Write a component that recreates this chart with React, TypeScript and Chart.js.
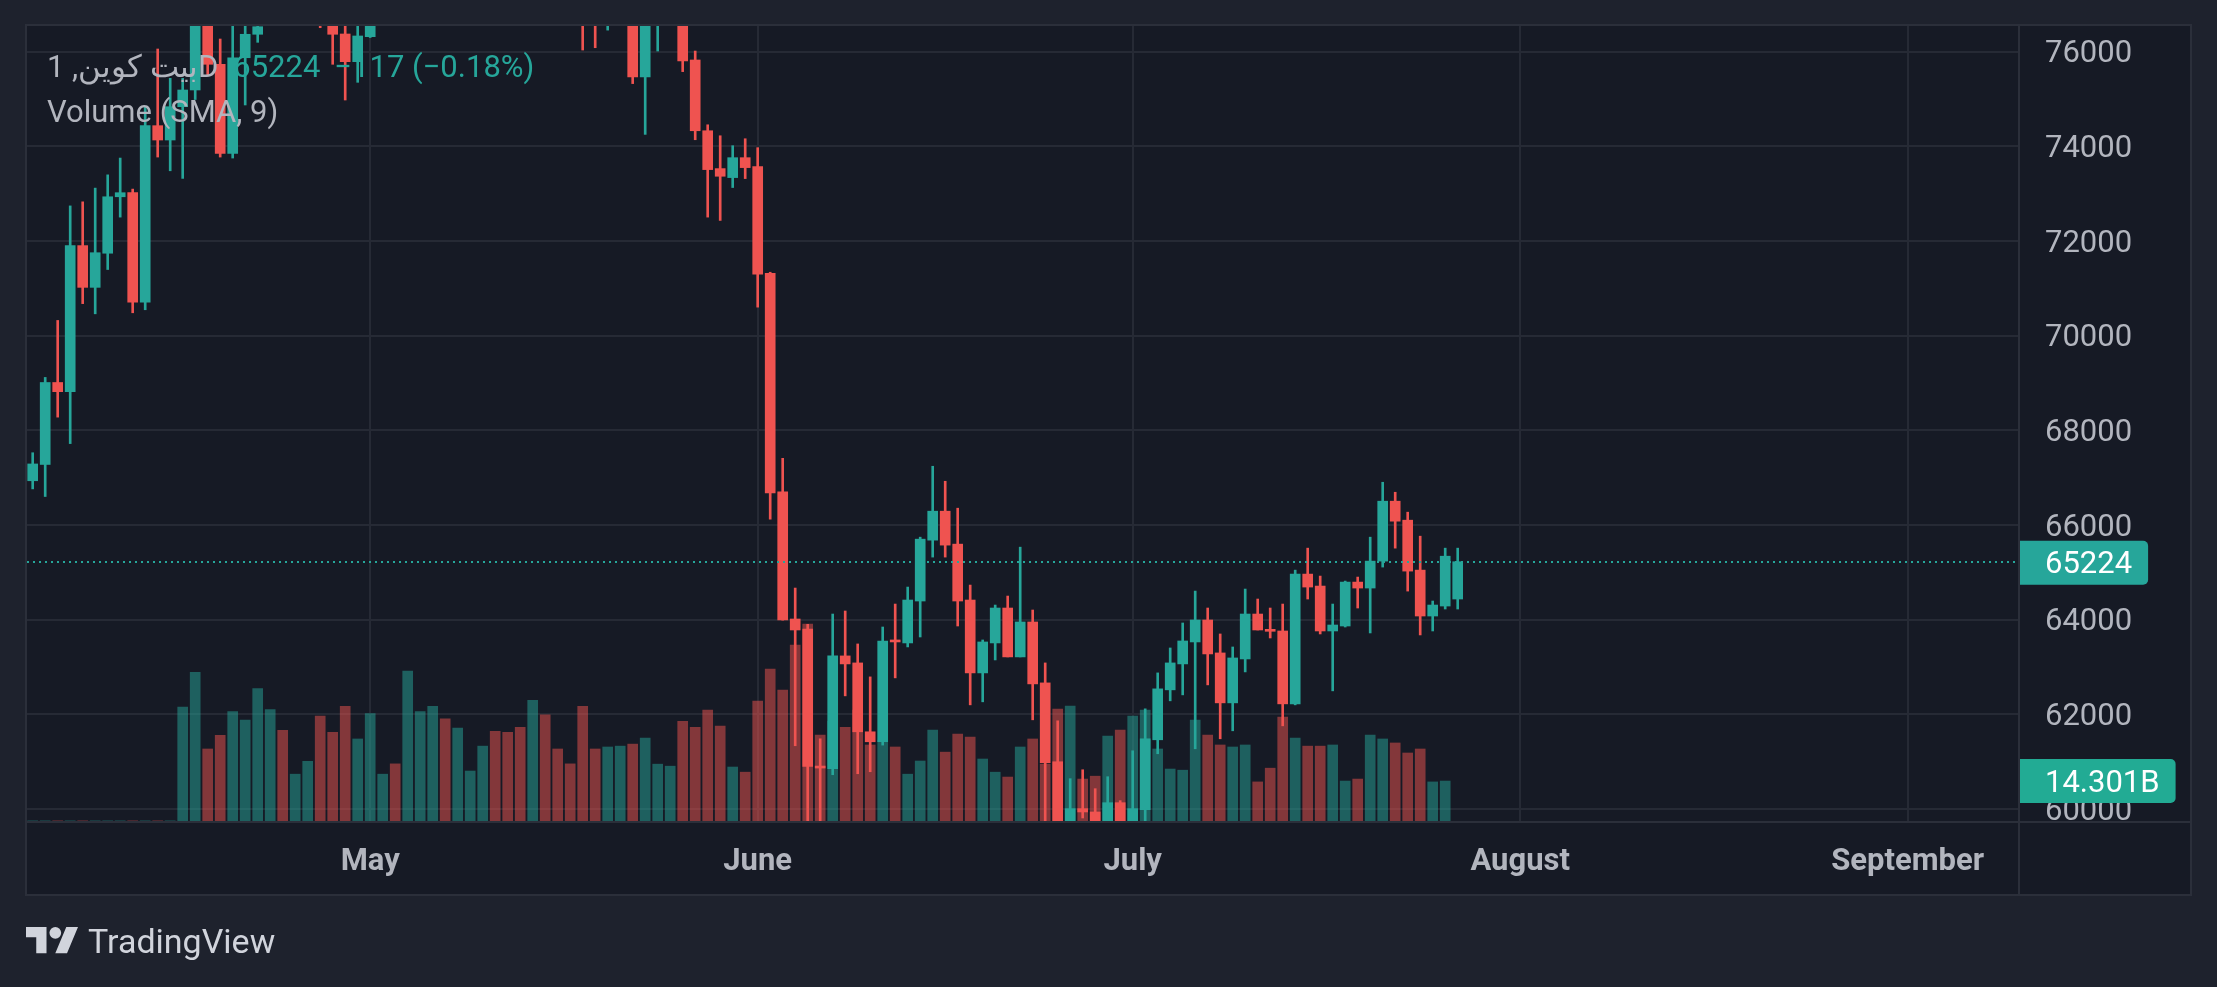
import React, { useEffect, useRef } from "react";
import { Chart, registerables } from "chart.js";

Chart.register(...registerables);

// Daily candles, index 0 = 4 April
const opens = [
  66935, 67279, 69011, 68817, 71903, 71021, 71742, 72935, 73021, 70710,
  74437, 74134, 74838, 75191, 77000, 75734, 73853, 75873, 76368, 77000,
  77600, 77100, 77500, 78000, 76900, 76374, 75789, 76317, 76700, 77300,
  76900, 78200, 78800, 79600, 78900, 79400, 79700, 80300, 79800, 79100,
  78300, 79000, 78200, 77600, 77100, 77000, 76650, 77100, 77400, 75467,
  77000, 77500, 77700, 75825, 74330, 73530, 73340, 73761, 73572, 71319,
  66700, 64014, 63803, 60907, 60851, 63234, 63086, 61631, 61420, 63564,
  63508, 64394, 65680, 66292, 65596, 64415, 62875, 63508, 64246, 63213,
  63951, 62664, 60998, 59650, 60007, 59937, 59650, 60133, 59650, 59986,
  61462, 62517, 63065, 63529, 63993, 63297, 62242, 63170, 64119, 63782,
  63761, 62221, 64963, 64710, 63761, 63866, 64794, 64668, 65237, 66503,
  66102, 65047, 64077, 64288, 64436,
];
const highs = [
  67527, 69118, 70322, 72742, 72828, 73118, 73398, 73753, 73097, 74849,
  76057, 75438, 75438, 77200, 77400, 76268, 76800, 76900, 77000, 78000,
  78100, 77900, 78400, 78300, 77100, 76800, 76700, 77000, 77600, 77700,
  78500, 79200, 80000, 79900, 79800, 80000, 80600, 80500, 80000, 79300,
  79400, 79200, 78400, 77800, 77300, 77200, 77300, 77900, 77700, 77300,
  77800, 78200, 78000, 76014, 74456, 74224, 74014, 74161, 73972, 71340,
  67409, 64668, 63901, 61483, 64119, 64183, 63487, 62791, 63845, 64330,
  64689, 65743, 67241, 66924, 66355, 64731, 63571, 64309, 64499, 65532,
  64204, 63086, 61863, 60640, 60829, 60429, 60682, 60176, 61230, 62116,
  62875, 63402, 63930, 64604, 64246, 63698, 63423, 64647, 64436, 64246,
  64330, 65047, 65511, 64921, 64330, 64815, 64900, 65743, 66903, 66692,
  66271, 65764, 64394, 65511, 65511,
];
const lows = [
  66763, 66602, 68279, 67720, 70677, 70462, 71398, 72505, 70484, 70548,
  73774, 73484, 73323, 74990, 75500, 73774, 73753, 74874, 76198, 76700,
  76800, 76900, 77200, 76507, 75734, 74979, 75353, 76300, 76650, 76700,
  76800, 77900, 78500, 78600, 78700, 79200, 79500, 79500, 78800, 78000,
  78100, 77900, 77300, 76800, 76035, 76084, 76456, 76900, 75326, 74253,
  76014, 77200, 75579, 74140, 72505, 72435, 73130, 73319, 70603, 66123,
  63990, 61336, 59600, 59600, 60724, 62390, 60745, 60787, 61350, 62770,
  63424, 63634, 65322, 65322, 63866, 62200, 62264, 63149, 63213, 63213,
  61884, 59600, 59500, 59500, 59810, 59500, 59500, 59500, 59500, 59600,
  61167, 62285, 62411, 61272, 62622, 61483, 61652, 62896, 63782, 63613,
  61757, 62200, 64436, 63698, 62496, 63845, 64246, 63719, 65111, 65511,
  64604, 63677, 63761, 64225, 64225,
];
const closes = [
  67290, 69011, 68817, 71903, 71021, 71753, 72935, 73021, 70710, 74437,
  74134, 74838, 75191, 76900, 75734, 73853, 75873, 76368, 76528, 77600,
  77100, 77500, 78000, 77000, 76368, 75789, 76332, 76700, 77300, 76900,
  78200, 78800, 79600, 78900, 79400, 79700, 80300, 79800, 79100, 78300,
  79000, 78200, 77600, 77100, 76700, 76650, 77100, 77600, 75467, 77000,
  77500, 77900, 75804, 74330, 73509, 73368, 73761, 73551, 71298, 66680,
  63993, 63782, 60900, 60865, 63234, 63065, 61631, 61420, 63550, 63529,
  64415, 65701, 66292, 65575, 64394, 62875, 63529, 64246, 63213, 63951,
  62643, 60977, 59650, 60007, 59937, 59650, 60133, 59650, 60007, 61483,
  62538, 63086, 63550, 63993, 63276, 62242, 63191, 64119, 63782, 63754,
  62221, 64963, 64689, 63761, 63887, 64794, 64668, 65237, 66503, 66081,
  65026, 64077, 64309, 65341, 65224,
];
// Volume in billions
const volumesB: (number | null)[] = [
  0.4, 0.4, 0.4, 0.4, 0.4, 0.4, 0.4, 0.4, 0.4, 0.4,
  0.4, 0.4, 40.1, 52.3, 25.5, 30.3, 38.6, 35.6, 46.6, 39.3,
  32.0, 16.7, 21.2, 37.0, 31.3, 40.4, 29.0, 37.9, 16.7, 20.3,
  52.7, 38.6, 40.4, 36.0, 32.8, 17.8, 26.5, 31.7, 31.3, 33.1,
  42.5, 37.4, 25.5, 20.3, 40.4, 25.5, 26.2, 26.5, 27.2, 29.3,
  20.2, 19.5, 35.2, 33.1, 39.1, 33.5, 19.2, 17.4, 42.2, 53.4,
  46.1, 61.8, 69.1, 30.4, 35.2, 33.1, 39.1, 26.9, 28.6, 26.2,
  16.7, 21.3, 32.1, 24.4, 30.7, 29.7, 22.0, 17.4, 15.7, 26.2,
  29.0, 20.2, 39.4, 40.5, 15.0, 16.0, 30.0, 32.1, 37.0, 39.1,
  25.5, 18.5, 18.1, 35.6, 30.4, 26.9, 26.2, 26.9, 14.0, 18.8,
  36.6, 29.3, 26.5, 26.5, 26.9, 14.3, 15.0, 30.4, 29.0, 27.6,
  24.1, 25.5, 14.0, 14.301, null,
];

const priceTicks = [60000, 62000, 64000, 66000, 68000, 70000, 72000, 74000, 76000];
const monthTickIndex = [27, 58, 88, 119, 150];
const monthLabels = ["May", "June", "July", "August", "September"];

const symbolTitle = "بيت كوين, 1D";
const lastPriceText = "65224";
const changeText = "−117 (−0.18%)";
const volumeTitle = "Volume (SMA, 9)";
const lastVolumeText = "14.301B";

const UP = "#26a69a";
const DOWN = "#ef5350";
const UP_VOL = "rgba(38,166,154,0.5)";
const DOWN_VOL = "rgba(239,83,80,0.5)";
const PAGE_BG = "#1e222d";
const PANE_BG = "#161a25";
const GRID = "#262a35";
const BORDER = "#2b2f3a";
const TEXT = "#b2b5be";
const FONT = "Roboto";

const TV_PATH = "M14 22H7V11H0V4h14v18zM28 22h-8l7.5-18h8L28 22z";

export default function App() {
  const canvasRef = useRef<HTMLCanvasElement | null>(null);

  useEffect(() => {
    document.body.style.margin = "0";
    document.body.style.background = PAGE_BG;
    const canvas = canvasRef.current;
    if (!canvas) return;

    const idx = closes.map((_, i) => i);
    const isUp = idx.map((i) => closes[i] >= opens[i]);
    const candleColors = isUp.map((u) => (u ? UP : DOWN));
    const volColors = isUp.map((u) => (u ? UP_VOL : DOWN_VOL));
    const wickData = idx.map((i) => ({ x: i, y: [lows[i], highs[i]] }));
    const bodyData = idx.map((i) => ({ x: i, y: [opens[i], closes[i]] }));
    const volData = idx.map((i) => ({ x: i, y: volumesB[i] }));
    const last = closes.length - 1;
    const lastUp = isUp[last];
    let lastVolIdx = volumesB.length - 1;
    while (lastVolIdx > 0 && volumesB[lastVolIdx] == null) lastVolIdx--;

    const decor = {
      id: "tvDecor",
      beforeDraw(chart: any) {
        const { ctx, chartArea } = chart;
        const ys = chart.scales.y;
        const xs = chart.scales.x;
        ctx.save();
        ctx.fillStyle = PAGE_BG;
        ctx.fillRect(0, 0, chart.width, chart.height);
        ctx.fillStyle = PANE_BG;
        ctx.fillRect(chartArea.left - 1, chartArea.top - 1, ys.right - chartArea.left + 1, xs.bottom - chartArea.top + 1);
        ctx.restore();
      },
      afterDatasetsDraw(chart: any) {
        const { ctx, chartArea } = chart;
        const ys = chart.scales.y;
        // last price dotted line
        const py = Math.round(ys.getPixelForValue(closes[last]));
        ctx.save();
        ctx.beginPath();
        ctx.rect(chartArea.left, chartArea.top, chartArea.right - chartArea.left, chartArea.bottom - chartArea.top);
        ctx.clip();
        ctx.strokeStyle = lastUp ? UP : DOWN;
        ctx.lineWidth = 2;
        ctx.setLineDash([2, 4]);
        ctx.beginPath();
        ctx.moveTo(chartArea.left, py);
        ctx.lineTo(chartArea.right, py);
        ctx.stroke();
        ctx.setLineDash([]);
        // legend
        ctx.textBaseline = "alphabetic";
        ctx.textAlign = "left";
        ctx.font = `31px ${FONT}`;
        const lx = chartArea.left + 20;
        ctx.fillStyle = TEXT;
        ctx.fillText(symbolTitle, lx, 77);
        let x = lx + ctx.measureText(symbolTitle).width + 15;
        ctx.fillStyle = lastUp ? UP : DOWN;
        ctx.fillText(lastPriceText, x, 77);
        x += ctx.measureText(lastPriceText).width + 14;
        ctx.fillText(changeText, x, 77);
        ctx.fillStyle = TEXT;
        ctx.fillText(volumeTitle, lx, 122);
        ctx.restore();
      },
      afterDraw(chart: any) {
        const { ctx, chartArea } = chart;
        const ys = chart.scales.y;
        const xs = chart.scales.x;
        const yv = chart.scales.yv;
        ctx.save();
        ctx.font = `31px ${FONT}`;
        ctx.textBaseline = "middle";
        ctx.textAlign = "left";
        const boxLeft = chartArea.right - 1;
        const drawBox = (text: string, yc: number, color: string) => {
          const tw = ctx.measureText(text).width;
          const w = tw + 27 + 16;
          ctx.fillStyle = color;
          ctx.beginPath();
          (ctx as any).roundRect(boxLeft, yc - 22, w, 44, [0, 5, 5, 0]);
          ctx.fill();
          ctx.fillStyle = "#ffffff";
          ctx.fillText(text, boxLeft + 27, yc + 3);
        };
        drawBox(lastPriceText, ys.getPixelForValue(closes[last]) + 1, lastUp ? UP : DOWN);
        const vUp = isUp[lastVolIdx];
        drawBox(lastVolumeText, yv.getPixelForValue(volumesB[lastVolIdx] as number), vUp ? "#22ab94" : "#f7525f");

        // frame and separators
        ctx.strokeStyle = BORDER;
        ctx.lineWidth = 2;
        const L = chartArea.left - 1;
        const T = chartArea.top - 1;
        const R = ys.right;
        const B = xs.bottom;
        ctx.strokeRect(L, T, R - L, B - T);
        ctx.beginPath();
        ctx.moveTo(chartArea.right, T);
        ctx.lineTo(chartArea.right, B);
        ctx.moveTo(L, chartArea.bottom);
        ctx.lineTo(R, chartArea.bottom);
        ctx.stroke();

        // TradingView logo
        ctx.fillStyle = "#d1d4dc";
        ctx.save();
        const s = 1.465;
        ctx.translate(L, 927 - 4 * s);
        ctx.scale(s, s);
        ctx.fill(new Path2D(TV_PATH));
        ctx.beginPath();
        ctx.arc(20, 8, 4, 0, Math.PI * 2);
        ctx.fill();
        ctx.restore();
        ctx.font = `34px ${FONT}`;
        ctx.textBaseline = "alphabetic";
        ctx.fillText("TradingView", 88, 953);
        ctx.restore();
      },
    };

    const chart = new Chart(canvas, {
      type: "bar",
      data: {
        datasets: [
          {
            label: "Volume",
            data: volData as any,
            xAxisID: "x",
            yAxisID: "yv",
            backgroundColor: volColors,
            barThickness: 10,
            grouped: false,
            order: 3,
            clip: 0 as any,
          },
          {
            label: "Wick",
            data: wickData as any,
            xAxisID: "x",
            yAxisID: "y",
            backgroundColor: candleColors,
            barThickness: 2,
            grouped: false,
            order: 2,
            clip: 0 as any,
          },
          {
            label: "Body",
            data: bodyData as any,
            xAxisID: "x",
            yAxisID: "y",
            backgroundColor: candleColors,
            barThickness: 10,
            minBarLength: 2,
            grouped: false,
            order: 1,
            clip: 0 as any,
          },
        ],
      },
      options: {
        responsive: false,
        maintainAspectRatio: false,
        animation: false,
        events: [],
        layout: { padding: { left: 27, top: 26, right: 26, bottom: 92 } },
        plugins: { legend: { display: false }, tooltip: { enabled: false } },
        scales: {
          x: {
            type: "linear",
            position: "bottom",
            min: -0.456,
            max: 158.904,
            offset: false,
            grid: { color: GRID, lineWidth: 2, drawTicks: true, tickLength: 22, tickColor: "rgba(0,0,0,0)", offset: false },
            border: { display: false },
            ticks: {
              autoSkip: false,
              maxRotation: 0,
              minRotation: 0,
              padding: 0,
              color: TEXT,
              font: { family: FONT, size: 31, weight: "bold" },
              callback: (v: any) => {
                const k = monthTickIndex.indexOf(Number(v));
                return k >= 0 ? monthLabels[k] : "";
              },
            },
            afterBuildTicks: (s: any) => {
              s.ticks = monthTickIndex.map((v) => ({ value: v }));
            },
            afterFit: (s: any) => {
              s.height = 73;
            },
          } as any,
          y: {
            type: "linear",
            position: "right",
            min: 59725,
            max: 76543,
            beginAtZero: false,
            grid: { color: GRID, lineWidth: 2, drawTicks: true, tickLength: 26, tickColor: "rgba(0,0,0,0)" },
            border: { display: false },
            ticks: {
              padding: 0,
              labelOffset: 3,
              color: TEXT,
              font: { family: FONT, size: 31 },
              callback: (v: any) => String(v),
            },
            afterBuildTicks: (s: any) => {
              s.ticks = priceTicks.map((v) => ({ value: v }));
            },
            afterFit: (s: any) => {
              s.width = 172;
            },
          } as any,
          yv: {
            type: "linear",
            position: "left",
            display: false,
            min: 0,
            max: 278,
          },
        },
      },
      plugins: [decor],
    });

    return () => {
      chart.destroy();
    };
  }, []);

  return (
    <div style={{ width: 2217, height: 987, background: PAGE_BG, overflow: "hidden" }}>
      <canvas ref={canvasRef} width={2217} height={987} style={{ display: "block", width: 2217, height: 987 }} />
    </div>
  );
}
